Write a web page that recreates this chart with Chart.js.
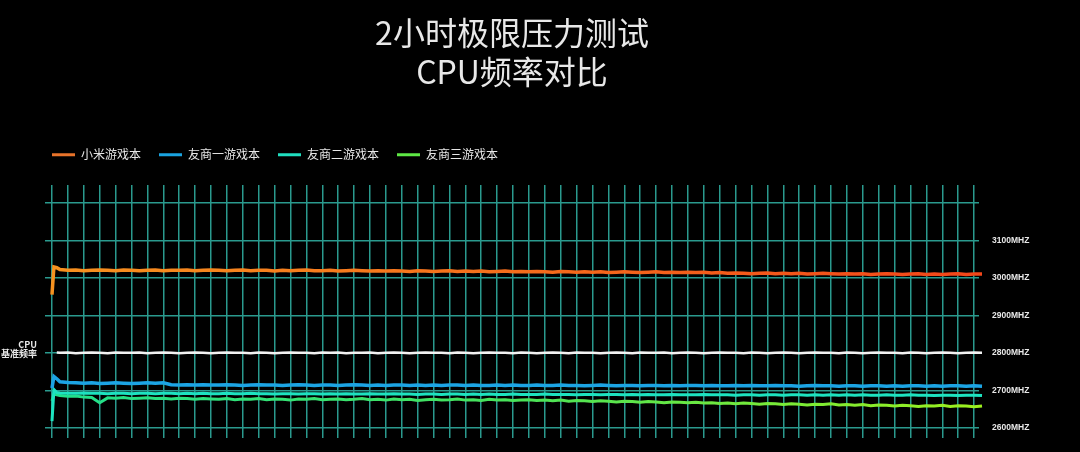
<!DOCTYPE html>
<html>
<head>
<meta charset="utf-8">
<script src="https://cdn.jsdelivr.net/npm/chart.js@4"></script>
<style>
    html, body { margin: 0; padding: 0; background: #000; }
    #wrap { width: 1080px; height: 452px; }
</style>
</head>
<body>
<div id="wrap"><canvas id="cpuChart"></canvas></div>
<script>
// serie (MHz) - tempo in unità di griglia
const seriesNames = ['小米游戏本', '友商一游戏本', '友商二游戏本', '友商三游戏本', 'CPU基准频率'];
const legendColors = ['#e8732a', '#1aa3e0', '#20dfc0', '#5ee845', '#f0f0f0'];

// primi tre campioni fitti (picco iniziale), poi ogni mezza unità fino a 58.5
const headTimes = [0, 0.12, 0.3];

const xiaomi = [2955, 3029, 3027,
    3022, 3020, 3021, 3019, 3020, 3021, 3020, 3019, 3021, 3020, 3019, 3020, 3021, 3019, 3020, 3020, 3021, 3019, 3020, 3021,
    3020, 3019, 3020, 3021, 3019, 3020, 3020, 3018, 3020, 3019, 3020, 3021, 3019, 3019, 3020, 3018, 3019, 3020, 3019, 3018,
    3019, 3018, 3019, 3018, 3017, 3019, 3018, 3017, 3018, 3019, 3017, 3018, 3017, 3018, 3016, 3017, 3018, 3016, 3017, 3016,
    3017, 3016, 3015, 3017, 3016, 3015, 3016, 3015, 3016, 3014, 3015, 3016, 3015, 3014, 3015, 3016, 3014, 3015, 3014, 3015,
    3014, 3015, 3013, 3014, 3012, 3013, 3012, 3011, 3012, 3013, 3011, 3012, 3011, 3012, 3010, 3011, 3012, 3011, 3010, 3011,
    3010, 3011, 3009, 3010, 3011, 3010, 3009, 3010, 3011, 3009, 3010, 3009, 3010, 3011, 3009, 3010, 3010];

const rivalOne = [2706, 2737, 2731,
    2723, 2721, 2720, 2719, 2720, 2718, 2719, 2720, 2719, 2718, 2719, 2720, 2719, 2720,
    2715, 2714, 2715, 2714, 2715, 2714,
    2714, 2715, 2714, 2713, 2714, 2715, 2714, 2714, 2713, 2714, 2715, 2714, 2713, 2714, 2714, 2713, 2714, 2715, 2714, 2713,
    2714, 2713, 2714, 2714, 2713, 2714, 2713, 2714, 2713, 2714, 2714, 2713, 2714, 2713, 2713, 2714, 2713, 2714, 2713, 2713,
    2714, 2713, 2713, 2714, 2713, 2713, 2712, 2713, 2714, 2713, 2712, 2713, 2713, 2712, 2713, 2713, 2712, 2713, 2712, 2713,
    2713, 2712, 2713, 2712, 2712, 2713, 2712, 2713, 2712, 2712, 2713, 2712, 2712, 2711, 2712, 2713, 2712, 2712, 2711, 2712,
    2712, 2711, 2712, 2712, 2711, 2712, 2711, 2712, 2712, 2711, 2712, 2711, 2712, 2712, 2711, 2712, 2711];

const rivalTwo = [2618, 2702, 2694,
    2693, 2692, 2692, 2693, 2692, 2692, 2691, 2692, 2692, 2691, 2692, 2692, 2691, 2692, 2692, 2691, 2692, 2691, 2692, 2691,
    2691, 2692, 2691, 2691, 2692, 2691, 2691, 2690, 2691, 2691, 2690, 2691, 2691, 2690, 2691, 2690, 2691, 2690, 2690, 2691,
    2690, 2690, 2691, 2690, 2690, 2689, 2690, 2690, 2689, 2690, 2690, 2689, 2690, 2689, 2690, 2689, 2689, 2690, 2689, 2689,
    2689, 2690, 2689, 2689, 2689, 2688, 2689, 2689, 2688, 2689, 2689, 2688, 2689, 2688, 2689, 2688, 2688, 2689, 2688, 2688,
    2688, 2689, 2688, 2688, 2688, 2687, 2688, 2688, 2687, 2688, 2688, 2687, 2688, 2688, 2687, 2688, 2687, 2688, 2687, 2688,
    2687, 2688, 2687, 2687, 2688, 2687, 2687, 2688, 2687, 2687, 2686, 2687, 2687, 2686, 2687, 2687, 2686];

const rivalThree = [2672, 2690, 2688,
    2686, 2684, 2685, 2682, 2681, 2667, 2680, 2679, 2681, 2678, 2679, 2680, 2678, 2679, 2677, 2679, 2678, 2676, 2678, 2677,
    2676, 2678, 2675, 2677, 2676, 2678, 2675, 2677, 2676, 2674, 2677, 2676, 2678, 2675, 2676, 2677, 2675, 2676, 2678, 2675,
    2676, 2674, 2677, 2675, 2676, 2673, 2675, 2676, 2674, 2675, 2677, 2674, 2675, 2673, 2676, 2674, 2675, 2673, 2674, 2675,
    2673, 2674, 2672, 2674, 2671, 2673, 2672, 2670, 2672, 2671, 2669, 2671, 2670, 2668, 2670, 2669, 2667, 2669, 2668, 2667,
    2668, 2666, 2667, 2665, 2666, 2664, 2666, 2665, 2663, 2665, 2664, 2662, 2664, 2663, 2661, 2663, 2662, 2664, 2661, 2662,
    2660, 2662, 2659, 2661, 2660, 2658, 2660, 2659, 2657, 2659, 2658, 2660, 2657, 2659, 2658, 2656, 2658];

const baseFreq = [null, null, 2801,
    2800, 2801, 2799, 2800, 2801, 2800, 2799, 2801, 2800, 2800,
    2801, 2799, 2800, 2801, 2800, 2799, 2800, 2801, 2800, 2799,
    2800, 2801, 2800, 2800, 2799, 2801, 2800, 2799, 2800, 2801,
    2800, 2800, 2799, 2801, 2800, 2801, 2799, 2800, 2800, 2801,
    2799, 2800, 2801, 2800, 2799, 2800, 2801, 2800, 2800, 2799,
    2801, 2800, 2799, 2800, 2801, 2800, 2800, 2799, 2801, 2800,
    2799, 2800, 2801, 2800, 2799, 2801, 2800, 2800, 2799, 2800,
    2801, 2800, 2799, 2801, 2800, 2800, 2801, 2799, 2800, 2801,
    2800, 2799, 2800, 2801, 2800, 2800, 2799, 2801, 2800, 2799,
    2800, 2801, 2800, 2799, 2800, 2801, 2800, 2800, 2799, 2801,
    2800, 2799, 2800, 2801, 2800, 2800, 2799, 2801, 2800, 2799,
    2800, 2801, 2800, 2799, 2800, 2801, 2800];

const yTicks = [2600, 2700, 2800, 2900, 3000, 3100, 3200];
const yLabels = ['2600MHZ', '2700MHZ', '2800MHZ', '2900MHZ', '3000MHZ', '3100MHZ', ''];
const sideLabel = ['CPU', '基准频率'];
const sideLabelValue = 2800;
const titleLines = ['2小时极限压力测试', 'CPU频率对比'];

const Y_MIN = 2573, Y_MAX = 3248;
const gridCols = Array.from({ length: 59 }, (_, i) => i);

// tempi: testa fitta + passo di mezza unità
const times = headTimes.concat(Array.from({ length: xiaomi.length - headTimes.length }, (_, i) => 0.5 + i * 0.5));
const toPoints = arr => arr.map((v, i) => ({ x: times[i], y: v }));

// gradiente orizzontale sull'area del grafico
function hGradient(stops, fallback) {
    return (ctx) => {
        const area = ctx.chart.chartArea;
        if (!area) return fallback;
        const g = ctx.chart.ctx.createLinearGradient(area.left, 0, area.right, 0);
        stops.forEach(s => g.addColorStop(s[0], s[1]));
        return g;
    };
}

// etichetta "CPU / 基准频率" a sinistra della linea bianca
const sideLabelPlugin = {
    id: 'sideLabel',
    afterDraw(chart) {
        const { ctx } = chart;
        const y = chart.scales.y.getPixelForValue(sideLabelValue);
        ctx.save();
        ctx.fillStyle = '#e8e8e8';
        ctx.font = "bold 9px 'Noto Sans CJK SC', sans-serif";
        ctx.textAlign = 'right';
        ctx.textBaseline = 'middle';
        ctx.fillText(sideLabel[0], 37, y - 8);
        ctx.fillText(sideLabel[1], 37, y + 1);
        ctx.restore();
    }
};

Chart.defaults.font.family = "'Noto Sans CJK SC', 'Noto Sans', sans-serif";
Chart.defaults.color = '#e6e6e6';

const gridColor = '#2a9a8e';

const datasets = [
    { data: toPoints(xiaomi), borderWidth: 3.5, borderColor: hGradient([[0, '#f7921f'], [0.5, '#f56e1c'], [1, '#f2461a']], '#f07020') },
    { data: toPoints(rivalOne), borderWidth: 3.5, borderColor: '#1ca4e4' },
    { data: toPoints(rivalTwo), borderWidth: 3, borderColor: '#1de3c0' },
    { data: toPoints(rivalThree), borderWidth: 3, borderColor: hGradient([[0, '#1fe08e'], [0.5, '#48e25a'], [1, '#9cf01e']], '#5ee845') },
    { data: toPoints(baseFreq), borderWidth: 2.5, borderColor: '#f2f2f2' }
].map((ds, i) => Object.assign(ds, {
    label: seriesNames[i],
    pointRadius: 0,
    tension: 0,
    clip: false,
    spanGaps: false
}));

new Chart(document.getElementById('cpuChart'), {
    type: 'line',
    data: { datasets },
    plugins: [sideLabelPlugin],
    options: {
        responsive: true,
        maintainAspectRatio: false,
        animation: false,
        layout: { padding: { left: 34, right: 0, top: 0, bottom: 14 } },
        plugins: {
            title: {
                display: true,
                fullSize: false,
                text: titleLines,
                color: '#e8e8e8',
                font: { size: 32, weight: 'normal', lineHeight: 1.2 },
                padding: { top: 14, bottom: 40 }
            },
            legend: {
                display: true,
                align: 'start',
                labels: {
                    boxWidth: 23,
                    boxHeight: 3,
                    padding: 18,
                    color: '#e6e6e6',
                    font: { size: 12 },
                    generateLabels: chart => chart.data.datasets
                        .map((ds, i) => ({
                            text: ds.label,
                            fillStyle: legendColors[i],
                            strokeStyle: legendColors[i],
                            lineWidth: 0,
                            fontColor: '#e6e6e6',
                            datasetIndex: i
                        }))
                        .filter(item => item.datasetIndex < 4)
                }
            },
            tooltip: { enabled: false }
        },
        scales: {
            x: {
                type: 'linear',
                position: 'top',
                min: -0.44,
                max: 58.31,
                afterBuildTicks: s => { s.ticks = gridCols.map(v => ({ value: v })); },
                afterFit: s => { s.height = 14; },
                ticks: { display: false },
                grid: { color: gridColor, lineWidth: 1.5, drawTicks: false },
                border: { display: false }
            },
            y: {
                type: 'linear',
                position: 'right',
                min: Y_MIN,
                max: Y_MAX,
                afterBuildTicks: s => { s.ticks = yTicks.map(v => ({ value: v })); },
                afterFit: s => { s.width = 101; },
                ticks: {
                    padding: 7,
                    color: '#e8e8e8',
                    font: { family: "'Liberation Sans', Arial, sans-serif", size: 8.5, weight: 'bold' },
                    callback: (v, i) => yLabels[i]
                },
                grid: { color: gridColor, lineWidth: 1.5, drawTicks: true, tickLength: 6, tickColor: 'rgba(0,0,0,0)' },
                border: { display: false }
            },
            yl: {
                type: 'linear',
                position: 'left',
                min: Y_MIN,
                max: Y_MAX,
                afterFit: s => { s.width = 11; },
                ticks: { display: false },
                grid: { display: false, drawTicks: false },
                border: { display: false }
            }
        }
    }
});
</script>
</body>
</html>
